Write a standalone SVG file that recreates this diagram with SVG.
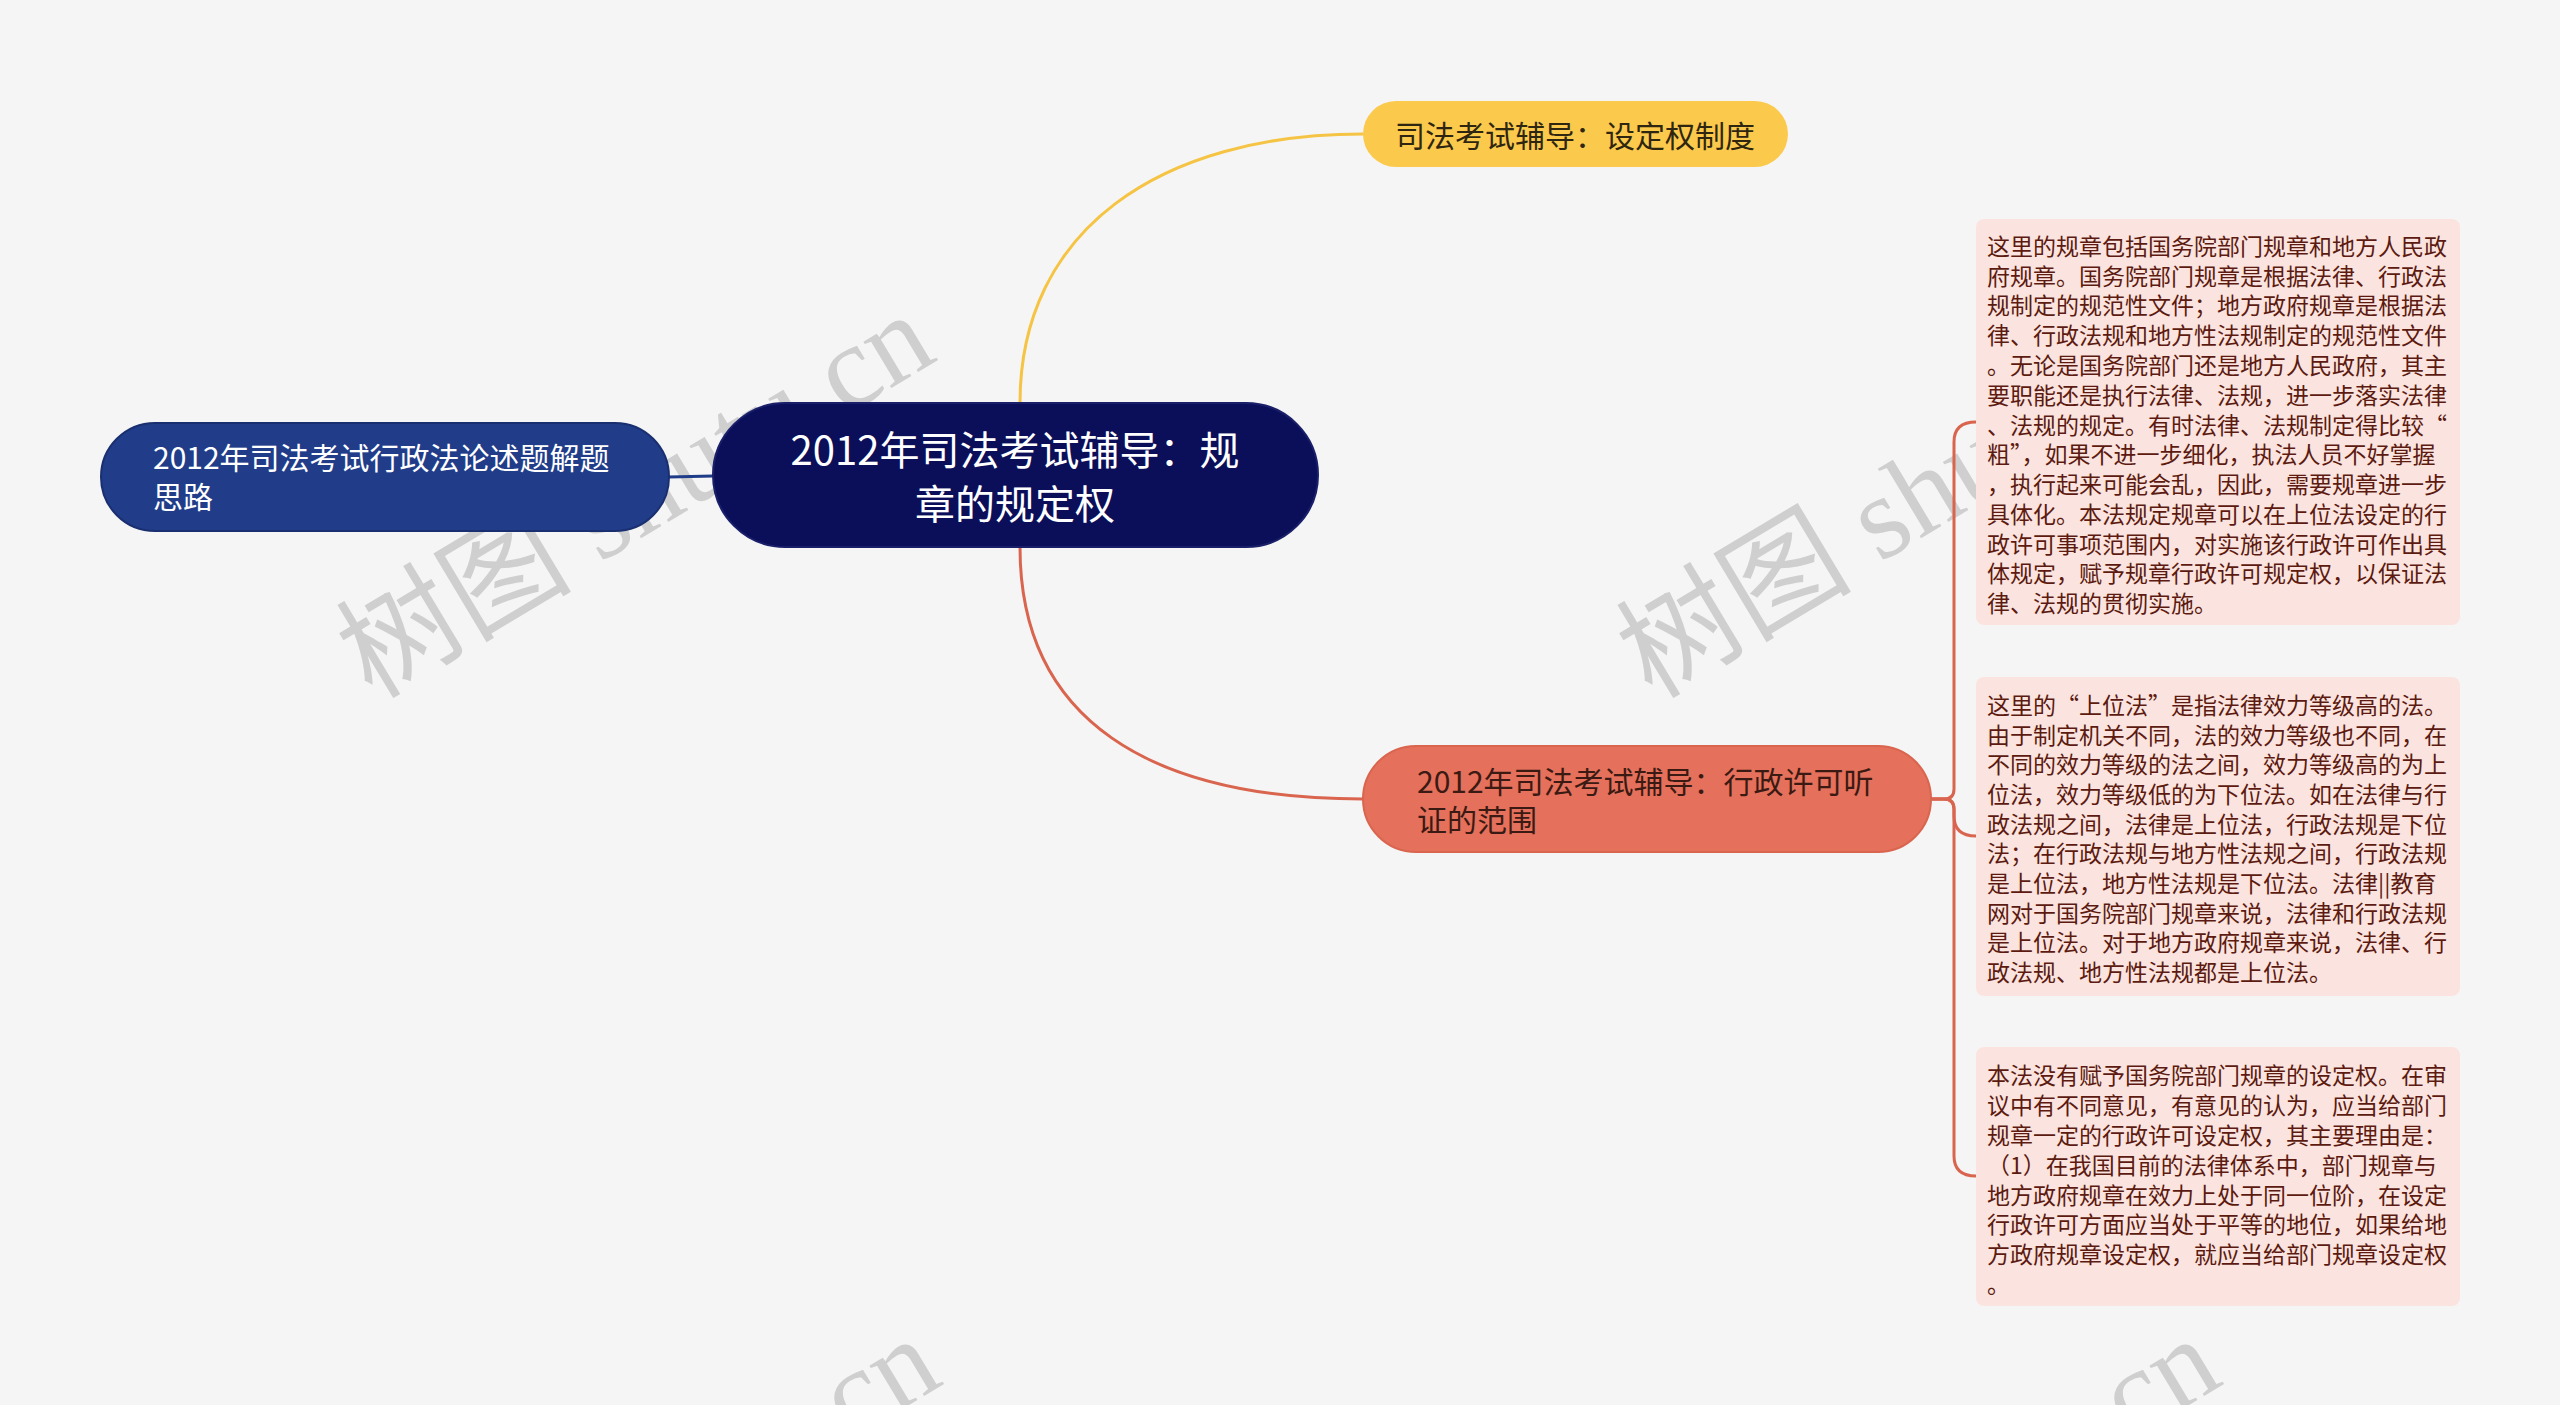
<svg xmlns="http://www.w3.org/2000/svg" width="2560" height="1405" viewBox="0 0 2560 1405">
<style>
text{font-family:"Noto Sans CJK SC","Noto Sans",sans-serif;}
.wm{font-family:"Liberation Serif","Noto Sans CJK SC",serif;font-size:118px;fill:#cfcfcf;}
.c{fill:none;stroke-width:3;stroke-linecap:round;}
.dt{font-size:23px;fill:#5c1a10;dominant-baseline:central;}
.nt{font-size:30px;dominant-baseline:central;}
</style>
<rect width="2560" height="1405" fill="#f5f5f5"/>
<g id="watermarks">
<text class="wm" transform="translate(372,700) rotate(-31)">树图 shutu.cn</text>
<text class="wm" transform="translate(1652,700) rotate(-31)">树图 shutu.cn</text>
<text class="wm" transform="translate(378,1724) rotate(-31)">树图 shutu.cn</text>
<text class="wm" transform="translate(1658,1724) rotate(-31)">树图 shutu.cn</text>
</g>
<g id="connectors">
<path class="c" stroke="#1f3c88" d="M669,477 L713,476"/>
<path class="c" stroke="#f6c445" d="M1020,403 C1020,230 1160,134 1363,134"/>
<path class="c" stroke="#d9654f" d="M1020,547 C1020,720 1150,799 1363,799"/>
<path class="c" stroke="#d9654f" d="M1931,799 H1944 Q1954,799 1954,789 V442 Q1954,422 1976,422"/>
<path class="c" stroke="#d9654f" d="M1931,799 H1944 Q1954,799 1954,809 V816 Q1954,836 1976,836"/>
<path class="c" stroke="#d9654f" d="M1931,799 H1944 Q1954,799 1954,809 V1156 Q1954,1176 1976,1176"/>
</g>
<g id="node-center">
<rect x="713" y="403" width="605" height="144" rx="72" fill="#0b0f5a" stroke="#1a1f6a" stroke-width="2"/>
<text x="1015" y="448" font-size="40" fill="#ffffff" text-anchor="middle" dominant-baseline="central">2012年司法考试辅导：规</text>
<text x="1015" y="502" font-size="40" fill="#ffffff" text-anchor="middle" dominant-baseline="central">章的规定权</text>
</g>
<g id="node-left">
<rect x="101" y="423" width="568" height="108" rx="54" fill="#213d8a" stroke="#1a2f70" stroke-width="2"/>
<text class="nt" x="153" y="456" fill="#ffffff">2012年司法考试行政法论述题解题</text>
<text class="nt" x="153" y="495" fill="#ffffff">思路</text>
</g>
<g id="node-top">
<rect x="1363" y="101" width="425" height="66" rx="33" fill="#fbc94c"/>
<text class="nt" x="1575" y="134" fill="#2e2610" text-anchor="middle">司法考试辅导：设定权制度</text>
</g>
<g id="node-right">
<rect x="1363" y="746" width="568" height="106" rx="53" fill="#e5705b" stroke="#d9654f" stroke-width="2"/>
<text class="nt" x="1417" y="780" fill="#3a1a12">2012年司法考试辅导：行政许可听</text>
<text class="nt" x="1417" y="818" fill="#3a1a12">证的范围</text>
</g>
<g id="detail-1">
<rect x="1976" y="219" width="484" height="406" rx="8" fill="#fbe4df"/>
<text class="dt" x="1987" y="245">这里的规章包括国务院部门规章和地方人民政</text>
<text class="dt" x="1987" y="275">府规章。国务院部门规章是根据法律、行政法</text>
<text class="dt" x="1987" y="304">规制定的规范性文件；地方政府规章是根据法</text>
<text class="dt" x="1987" y="334">律、行政法规和地方性法规制定的规范性文件</text>
<text class="dt" x="1987" y="364">。无论是国务院部门还是地方人民政府，其主</text>
<text class="dt" x="1987" y="394">要职能还是执行法律、法规，进一步落实法律</text>
<text class="dt" x="1987" y="424">、法规的规定。有时法律、法规制定得比较“</text>
<text class="dt" x="1987" y="453">粗”，如果不进一步细化，执法人员不好掌握</text>
<text class="dt" x="1987" y="483">，执行起来可能会乱，因此，需要规章进一步</text>
<text class="dt" x="1987" y="513">具体化。本法规定规章可以在上位法设定的行</text>
<text class="dt" x="1987" y="543">政许可事项范围内，对实施该行政许可作出具</text>
<text class="dt" x="1987" y="572">体规定，赋予规章行政许可规定权，以保证法</text>
<text class="dt" x="1987" y="602">律、法规的贯彻实施。</text>
</g>
<g id="detail-2">
<rect x="1976" y="677" width="484" height="319" rx="8" fill="#fbe4df"/>
<text class="dt" x="1987" y="704">这里的“上位法”是指法律效力等级高的法。</text>
<text class="dt" x="1987" y="734">由于制定机关不同，法的效力等级也不同，在</text>
<text class="dt" x="1987" y="763">不同的效力等级的法之间，效力等级高的为上</text>
<text class="dt" x="1987" y="793">位法，效力等级低的为下位法。如在法律与行</text>
<text class="dt" x="1987" y="823">政法规之间，法律是上位法，行政法规是下位</text>
<text class="dt" x="1987" y="852">法；在行政法规与地方性法规之间，行政法规</text>
<text class="dt" x="1987" y="882">是上位法，地方性法规是下位法。法律||教育</text>
<text class="dt" x="1987" y="912">网对于国务院部门规章来说，法律和行政法规</text>
<text class="dt" x="1987" y="941">是上位法。对于地方政府规章来说，法律、行</text>
<text class="dt" x="1987" y="971">政法规、地方性法规都是上位法。</text>
</g>
<g id="detail-3">
<rect x="1976" y="1047" width="484" height="259" rx="8" fill="#fbe4df"/>
<text class="dt" x="1987" y="1074">本法没有赋予国务院部门规章的设定权。在审</text>
<text class="dt" x="1987" y="1104">议中有不同意见，有意见的认为，应当给部门</text>
<text class="dt" x="1987" y="1134">规章一定的行政许可设定权，其主要理由是：</text>
<text class="dt" x="1987" y="1164">（1）在我国目前的法律体系中，部门规章与</text>
<text class="dt" x="1987" y="1194">地方政府规章在效力上处于同一位阶，在设定</text>
<text class="dt" x="1987" y="1223">行政许可方面应当处于平等的地位，如果给地</text>
<text class="dt" x="1987" y="1253">方政府规章设定权，就应当给部门规章设定权</text>
<text class="dt" x="1987" y="1283">。</text>
</g>
</svg>
